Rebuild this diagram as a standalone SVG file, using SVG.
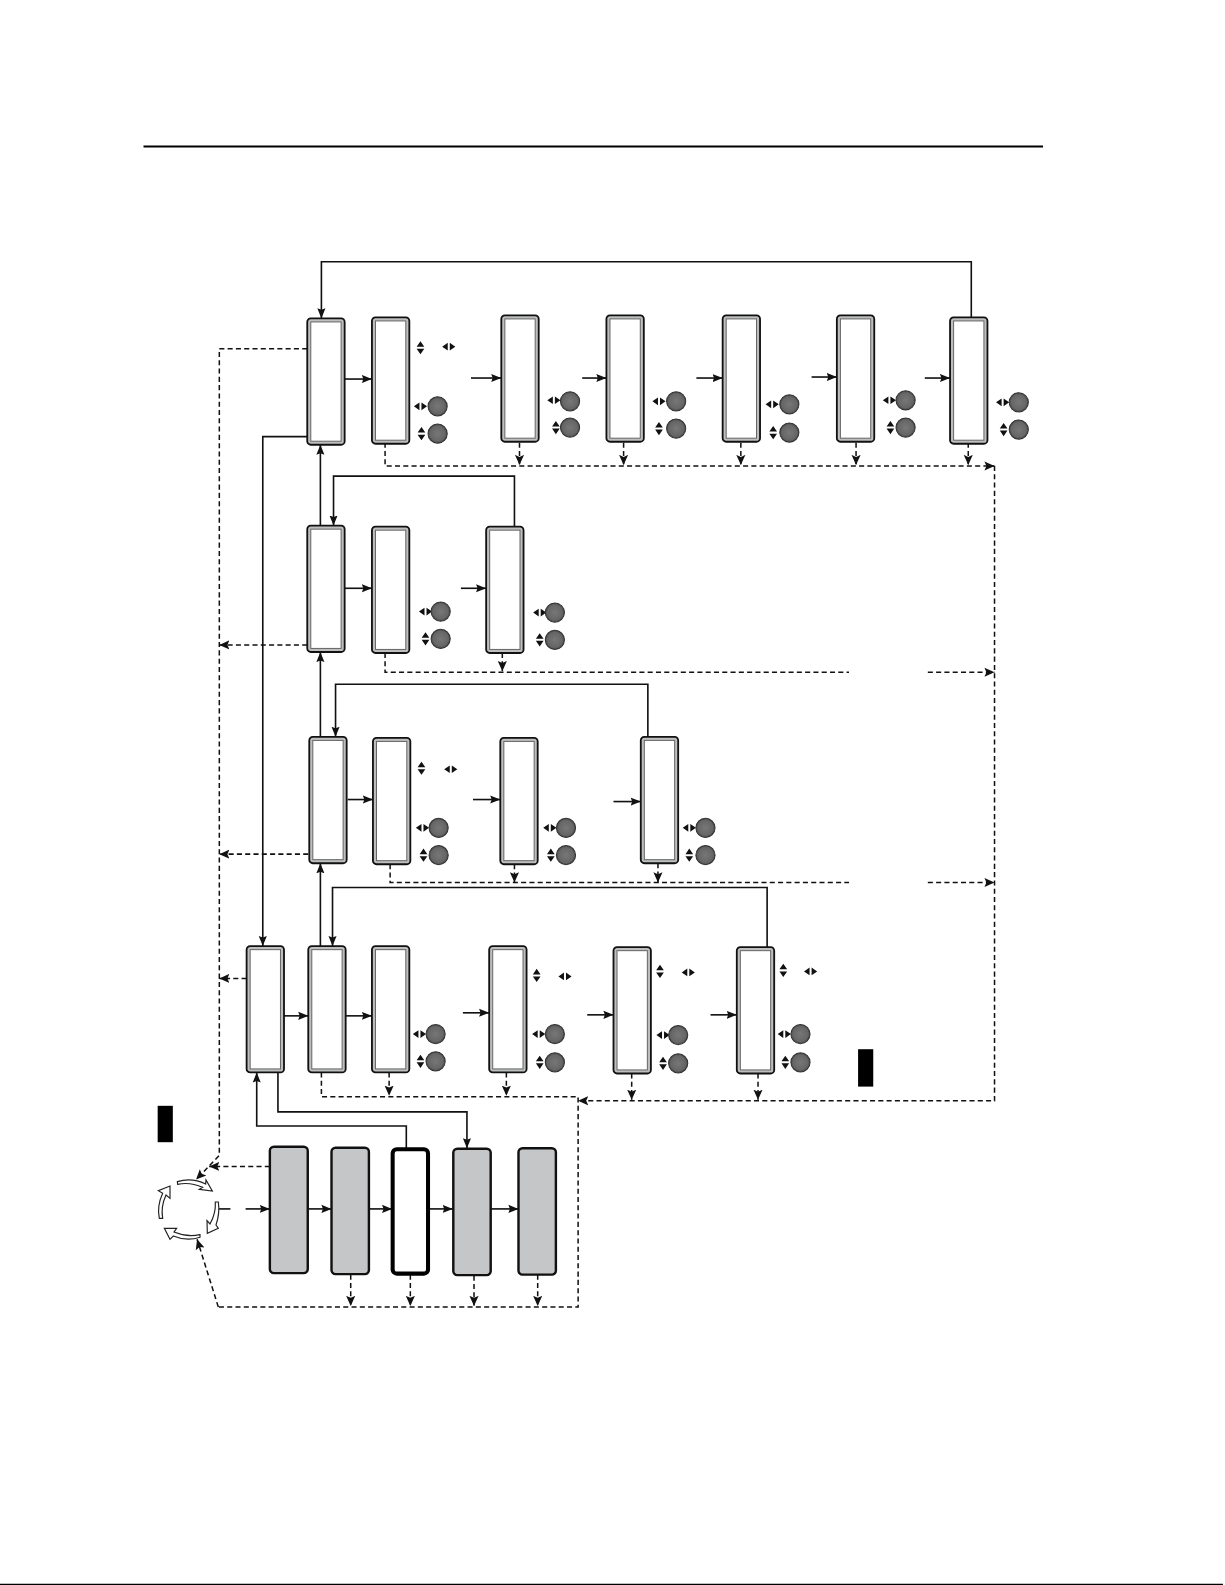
<svg xmlns="http://www.w3.org/2000/svg" width="1225" height="1585" viewBox="0 0 1225 1585">
<style>
.s{fill:none;stroke:#111;stroke-width:1.6}
.a{marker-end:url(#ah)}
.d{fill:none;stroke:#111;stroke-width:1.5;stroke-dasharray:5 3.2;marker-end:url(#ad)}
.dn{fill:none;stroke:#111;stroke-width:1.5;stroke-dasharray:5 3.2}
.g{fill:#c5c6c8;stroke:#111;stroke-width:2.4}
.w{fill:#fff;stroke:#000;stroke-width:4}
.c{fill:#fff;stroke:#222;stroke-width:3.5;stroke-linejoin:miter}
</style>
<defs>
<marker id="ah" markerUnits="userSpaceOnUse" markerWidth="12" markerHeight="12" refX="10" refY="6" orient="auto"><path d="M0,2 L10,6 L0,10 L1.500,6 Z" fill="#111"/></marker>
<marker id="ad" markerUnits="userSpaceOnUse" markerWidth="12" markerHeight="12" refX="10" refY="6" orient="auto"><path d="M0,1.500 L10,6 L0,10.500 L2,6 Z" fill="#111"/></marker>
<radialGradient id="bg" cx="50%" cy="50%" r="55%"><stop offset="0" stop-color="#777"/><stop offset=".7" stop-color="#666"/><stop offset="1" stop-color="#3c3c3c"/></radialGradient>
<g id="t"><rect x="0" y="0" width="37" height="125" rx="3.500" fill="#bdbebf" stroke="#111" stroke-width="1.800"/><rect x="3.500" y="3.500" width="30" height="118" fill="#fff" stroke="#666" stroke-width="1"/></g>
<circle id="b" r="9.500" fill="url(#bg)" stroke="#333" stroke-width="1"/>
<g id="lr"><path d="M-1,-3.800 L-6.500,0 L-1,3.800 Z M1,-3.800 L6.500,0 L1,3.800 Z" fill="#111"/></g>
<g id="ud"><path d="M-3.800,-1 L0,-6.500 L3.800,-1 Z M-3.800,1 L0,6.500 L3.800,1 Z" fill="#111"/></g>
</defs>
<rect width="1225" height="1585" fill="#fff"/>
<g transform="scale(1.0107 1.0108)">
<g id="rules">
<line x1="142" y1="145" x2="1032" y2="145" stroke="#000" stroke-width="2"/>
<line x1="0" y1="1567.500" x2="1210" y2="1567.500" stroke="#000" stroke-width="1.500"/>
</g>
<g id="connectors">
<path class="s a" d="M961,314 V259 H318 V315"/>
<path class="s a" d="M341,375 H368"/><path class="s a" d="M466,374 H496"/><path class="s a" d="M576,374 H600"/><path class="s a" d="M689,374 H715"/><path class="s a" d="M803,373 H828"/><path class="s a" d="M915,374 H940"/>
<path class="s a" d="M317,520 V440"/>
<path class="s a" d="M509,521 V471 H330 V520"/>
<path class="s a" d="M341,582 H368"/><path class="s a" d="M456,582 H481"/>
<path class="s a" d="M317,729 V645"/>
<path class="s a" d="M641,729 V677 H332 V729"/>
<path class="s a" d="M344,791 H369"/><path class="s a" d="M468,791 H495"/><path class="s a" d="M607,793 H634"/>
<path class="s a" d="M317,936 V854"/>
<path class="s a" d="M759,937 V878 H329 V936"/>
<path class="s a" d="M304,432 H260 V936"/>
<path class="s a" d="M281,1005 H305"/><path class="s a" d="M342,1005 H368"/><path class="s a" d="M458,1002 H484"/><path class="s a" d="M581,1004 H607"/><path class="s a" d="M703,1004 H729"/>
<path class="s a" d="M402,1136 V1114 H254 V1061"/>
<path class="s a" d="M275,1061 V1100 H462 V1136"/>
<path class="s" d="M216,1196 H228"/><path class="s a" d="M243,1196 H267"/>
<path class="s a" d="M305,1196 H328"/><path class="s a" d="M365,1196 H388"/><path class="s a" d="M424,1196 H448"/><path class="s a" d="M486,1196 H513"/>
<path class="d" d="M381,438 V461 H984"/>
<path class="d" d="M514,438 V460"/><path class="d" d="M617,438 V460"/><path class="d" d="M733,438 V460"/><path class="d" d="M847,438 V460"/><path class="d" d="M958,438 V460"/>
<path class="d" d="M984,461 V1089 H572"/>
<path class="dn" d="M381,646 V665 H840"/><path class="d" d="M918,665 H984"/><path class="d" d="M497,646 V664"/>
<path class="dn" d="M386,855 V873 H840"/><path class="d" d="M918,873 H984"/><path class="d" d="M509,855 V873"/><path class="d" d="M651,854 V873"/>
<path class="dn" d="M318,1061 V1085 H572 V1293 H216"/>
<path class="d" d="M216,1293 L195,1226"/>
<path class="d" d="M385,1061 V1084"/><path class="d" d="M501,1061 V1084"/><path class="d" d="M625,1062 V1088"/><path class="d" d="M750,1062 V1088"/>
<path class="d" d="M304,345 H217 V1143 L194,1167"/>
<path class="d" d="M304,638 H217"/><path class="d" d="M305,845 H217"/><path class="d" d="M244,968 H217"/>
<path class="d" d="M267,1154 H207"/>
<path class="d" d="M347,1261 V1292"/><path class="d" d="M406,1261 V1292"/><path class="d" d="M469,1262 V1292"/><path class="d" d="M532,1261 V1292"/>
</g>
<g id="n1a"><use href="#t" x="304" y="315"/></g>
<g id="n1b"><use href="#t" x="368" y="314"/><use href="#ud" x="416" y="344"/><use href="#lr" x="444" y="343"/><use href="#lr" x="416" y="402"/><use href="#b" x="433" y="402"/><use href="#ud" x="417" y="429"/><use href="#b" x="433" y="429"/></g>
<g id="n1c"><use href="#t" x="496" y="312"/><use href="#lr" x="548" y="396"/><use href="#b" x="564" y="397"/><use href="#ud" x="550" y="423"/><use href="#b" x="564" y="423"/></g>
<g id="n1d"><use href="#t" x="600" y="312"/><use href="#lr" x="652" y="397"/><use href="#b" x="669" y="397"/><use href="#ud" x="652" y="424"/><use href="#b" x="669" y="424"/></g>
<g id="n1e"><use href="#t" x="715" y="312"/><use href="#lr" x="764" y="400"/><use href="#b" x="781" y="400"/><use href="#ud" x="765" y="428"/><use href="#b" x="781" y="428"/></g>
<g id="n1f"><use href="#t" x="828" y="312"/><use href="#lr" x="880" y="396"/><use href="#b" x="896" y="396"/><use href="#ud" x="881" y="423"/><use href="#b" x="896" y="423"/></g>
<g id="n1g"><use href="#t" x="940" y="314"/><use href="#lr" x="992" y="398"/><use href="#b" x="1008" y="398"/><use href="#ud" x="993" y="425"/><use href="#b" x="1008" y="425"/></g>
<g id="n2a"><use href="#t" x="304" y="520"/></g>
<g id="n2b"><use href="#t" x="368" y="521"/><use href="#lr" x="421" y="605"/><use href="#b" x="436" y="605"/><use href="#ud" x="421" y="632"/><use href="#b" x="436" y="632"/></g>
<g id="n2c"><use href="#t" x="481" y="521"/><use href="#lr" x="534" y="606"/><use href="#b" x="549" y="606"/><use href="#ud" x="534" y="633"/><use href="#b" x="549" y="633"/></g>
<g id="n3a"><use href="#t" x="306" y="729"/></g>
<g id="n3b"><use href="#t" x="369" y="730"/><use href="#ud" x="417" y="760"/><use href="#lr" x="446" y="761"/><use href="#lr" x="418" y="819"/><use href="#b" x="434" y="819"/><use href="#ud" x="419" y="846"/><use href="#b" x="434" y="846"/></g>
<g id="n3c"><use href="#t" x="495" y="730"/><use href="#lr" x="544" y="819"/><use href="#b" x="560" y="819"/><use href="#ud" x="545" y="846"/><use href="#b" x="560" y="846"/></g>
<g id="n3d"><use href="#t" x="634" y="729"/><use href="#lr" x="682" y="819"/><use href="#b" x="698" y="819"/><use href="#ud" x="682" y="846"/><use href="#b" x="698" y="846"/></g>
<g id="n4l"><use href="#t" x="244" y="936"/></g>
<g id="n4a"><use href="#t" x="305" y="936"/></g>
<g id="n4b"><use href="#t" x="368" y="936"/><use href="#lr" x="415" y="1023"/><use href="#b" x="431" y="1023"/><use href="#ud" x="416" y="1050"/><use href="#b" x="431" y="1050"/></g>
<g id="n4c"><use href="#t" x="484" y="936"/><use href="#ud" x="531" y="965"/><use href="#lr" x="559" y="966"/><use href="#lr" x="533" y="1023"/><use href="#b" x="549" y="1023"/><use href="#ud" x="534" y="1051"/><use href="#b" x="549" y="1051"/></g>
<g id="n4d"><use href="#t" x="607" y="937"/><use href="#ud" x="653" y="961"/><use href="#lr" x="681" y="962"/><use href="#lr" x="656" y="1024"/><use href="#b" x="671" y="1024"/><use href="#ud" x="656" y="1052"/><use href="#b" x="671" y="1052"/></g>
<g id="n4e"><use href="#t" x="729" y="937"/><use href="#ud" x="775" y="960"/><use href="#lr" x="802" y="961"/><use href="#lr" x="776" y="1023"/><use href="#b" x="792" y="1023"/><use href="#ud" x="777" y="1051"/><use href="#b" x="792" y="1051"/></g>
<g id="p1"><rect class="g" x="267" y="1134.500" width="37.500" height="125" rx="4"/></g>
<g id="p2"><rect class="g" x="328" y="1135.500" width="37" height="125" rx="4"/></g>
<g id="p3"><rect class="w" x="388.500" y="1137" width="35" height="123" rx="4"/></g>
<g id="p4"><rect class="g" x="448.500" y="1136.500" width="37" height="125" rx="4"/></g>
<g id="p5"><rect class="g" x="513" y="1136" width="37" height="125" rx="4"/></g>
<g id="tab1"><rect x="849" y="1038" width="15" height="37" fill="#000"/></g>
<g id="tab2"><rect x="156" y="1094" width="15" height="36" fill="#000"/></g>
</g>
<g id="cycle" transform="translate(130 1100) scale(.3333)">
<path class="c" d="M142,245 Q185,232 227,252 L228,240 L247,273 L208,268 L218,262 Q180,245 143,253 Z"/>
<path class="c" d="M258,306 L265,306 Q270,340 258,375 L265,385 L232,400 L231,362 L240,372 Q258,340 256,306 Z"/>
<path class="c" d="M210,405 L210,412 Q170,425 130,408 L120,418 L103,385 L140,385 L132,396 Q170,412 210,404 Z"/>
<path class="c" d="M98,355 L88,355 Q80,320 98,280 L85,272 L120,258 L120,295 L108,285 Q92,320 98,355 Z"/>
</g>
</svg>
